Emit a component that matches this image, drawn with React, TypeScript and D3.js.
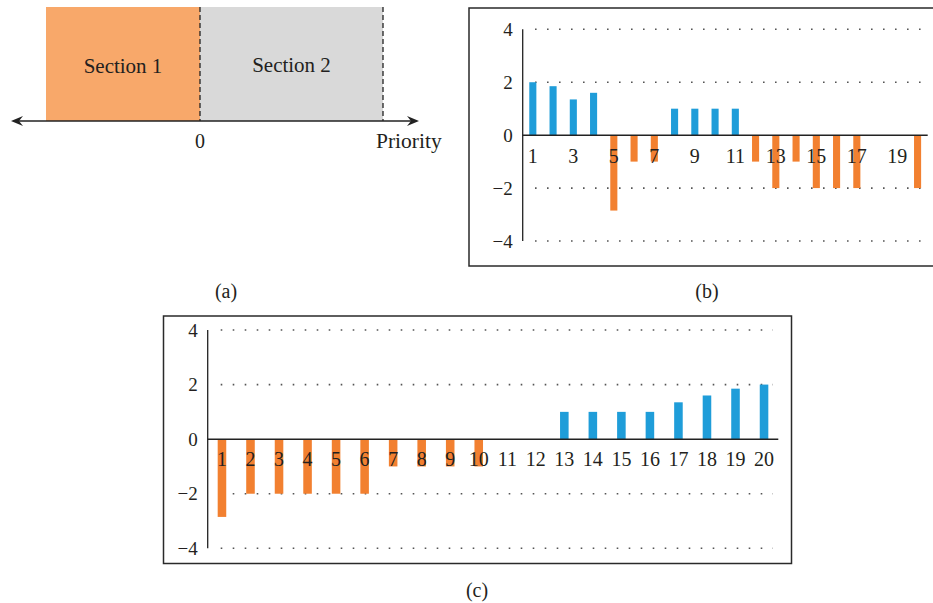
import React from "react";
import * as d3 from "d3";

const categories = d3.range(1, 21);
const valuesB = [2, 1.85, 1.35, 1.6, -2.85, -1, -1, 1, 1, 1, 1, -1, -2, -1, -2, -2, -2, 0, 0, -2];
const valuesC = [-2.85, -2, -2, -2, -2, -2, -1, -1, -1, -1, 0, 0, 1, 1, 1, 1, 1.35, 1.6, 1.85, 2];
const yTicks = [-4, -2, 0, 2, 4];
const labelsB = categories.filter((d) => d % 2 === 1);
const labelsC = categories;
const sectionLabels = ["Section 1", "Section 2"];

const ORANGE = "#F28030";
const BLUE = "#1F9DD9";
const FONT = "'Liberation Serif', 'DejaVu Serif', serif";
const fmt = d3.format("d");

type PanelProps = {
  values: number[];
  labels: number[];
  frame: [number, number, number, number];
  xRange: [number, number];
  yRange: [number, number];
  gridStart: number;
  gridEnd: number;
  padding: number;
  caption: string;
  captionPos: [number, number];
  labelY: number;
};

function Panel(p: PanelProps) {
  const x = d3.scaleBand<number>().domain(categories).range(p.xRange).paddingInner(p.padding).paddingOuter(p.padding / 2);
  const y = d3.scaleLinear().domain([-4, 4]).range(p.yRange);
  const [fx, fy, fw, fh] = p.frame;
  return (
    <g>
      <rect x={fx} y={fy} width={fw} height={fh} fill="white" stroke="#2a2a2a" strokeWidth={1.5} />
      {yTicks.filter((t) => t !== 0).map((t) => (
        <line key={"g" + t} x1={p.gridStart} x2={p.gridEnd} y1={y(t)} y2={y(t)} stroke="#555" strokeWidth={1.6} strokeDasharray="1.6 10.4" />
      ))}
      {categories.map((c, i) => {
        const v = p.values[i];
        if (v === 0) return null;
        return (
          <rect key={"b" + c} x={x(c)!} width={x.bandwidth()} y={Math.min(y(v), y(0))} height={Math.abs(y(v) - y(0))} fill={v > 0 ? BLUE : ORANGE} />
        );
      })}
      <line x1={p.xRange[0]} x2={p.xRange[0]} y1={y(4)} y2={y(-4)} stroke="#222" strokeWidth={1.3} />
      <line x1={p.xRange[0]} x2={p.xRange[1]} y1={y(0)} y2={y(0)} stroke="#222" strokeWidth={1.5} />
      {yTicks.map((t) => (
        <text key={"t" + t} x={p.xRange[0] - 10} y={y(t)} dy="0.35em" textAnchor="end" fontFamily={FONT} fontSize={19} fill="#231f20">
          {fmt(t)}
        </text>
      ))}
      {p.labels.map((c) => (
        <text key={"l" + c} x={x(c)! + x.bandwidth() / 2} y={p.labelY} textAnchor="middle" fontFamily={FONT} fontSize={20} fill="#231f20">
          {c}
        </text>
      ))}
      <text x={p.captionPos[0]} y={p.captionPos[1]} textAnchor="middle" fontFamily={FONT} fontSize={20} fill="#231f20">
        {p.caption}
      </text>
    </g>
  );
}

function PanelA() {
  const x0 = 200;
  const xEnd = 383;
  const top = 7;
  const base = 121;
  const arrow = (tipX: number, dir: number) =>
    `M${tipX},${base} L${tipX - dir * 12},${base - 5} L${tipX - dir * 8},${base} L${tipX - dir * 12},${base + 5} Z`;
  return (
    <g>
      <rect x={46} y={top} width={x0 - 46} height={base - top} fill="#F8A86A" />
      <rect x={x0} y={top} width={xEnd - x0} height={base - top} fill="#D9D9D9" />
      <line x1={x0} x2={x0} y1={top} y2={base} stroke="#222" strokeWidth={1.3} strokeDasharray="5 3" />
      <line x1={xEnd} x2={xEnd} y1={top} y2={base} stroke="#222" strokeWidth={1.3} strokeDasharray="5 3" />
      <line x1={14} x2={416} y1={base} y2={base} stroke="#222" strokeWidth={1.5} />
      <path d={arrow(11, -1)} fill="#222" />
      <path d={arrow(419, 1)} fill="#222" />
      <text x={(46 + x0) / 2} y={73} textAnchor="middle" fontFamily={FONT} fontSize={21} fill="#231f20">{sectionLabels[0]}</text>
      <text x={(x0 + xEnd) / 2} y={72} textAnchor="middle" fontFamily={FONT} fontSize={21} fill="#231f20">{sectionLabels[1]}</text>
      <text x={x0} y={148} textAnchor="middle" fontFamily={FONT} fontSize={20} fill="#231f20">0</text>
      <text x={376} y={148} fontFamily={FONT} fontSize={21.5} fill="#231f20">Priority</text>
      <text x={226} y={298} textAnchor="middle" fontFamily={FONT} fontSize={20} fill="#231f20">(a)</text>
    </g>
  );
}

export default function App() {
  return (
    <svg width={933} height={603} style={{ position: "absolute", left: 0, top: 0, background: "white" }}>
      <PanelA />
      <Panel
        values={valuesB}
        labels={labelsB}
        frame={[469, 8, 470, 258]}
        xRange={[522.7, 927.7]}
        yRange={[241, 29.3]}
        gridStart={535}
        gridEnd={921}
        padding={0.65}
        caption="(b)"
        captionPos={[707, 298]}
        labelY={163}
      />
      <Panel
        values={valuesC}
        labels={labelsC}
        frame={[163.5, 316, 628, 247.5]}
        xRange={[207.7, 778.3]}
        yRange={[548.3, 330]}
        gridStart={220.7}
        gridEnd={773}
        padding={0.7}
        caption="(c)"
        captionPos={[477, 597]}
        labelY={466}
      />
    </svg>
  );
}
